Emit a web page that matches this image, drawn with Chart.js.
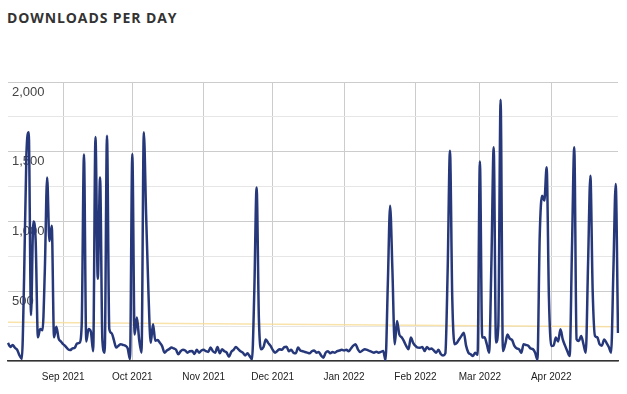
<!DOCTYPE html>
<html>
<head>
<meta charset="utf-8">
<script src="https://cdn.jsdelivr.net/npm/chart.js@4"></script>
<style>
  body { margin: 0; background: #fff; }
  #wrap { position: relative; width: 627px; height: 394px; }
  #title {
    position: absolute; left: 7px; top: 8px;
    font: 700 14px "Open Sans", sans-serif;
    letter-spacing: 0.9px; color: #333;
  }
  #chart { position: absolute; left: 0; top: 0; }
</style>
</head>
<body>
<div id="wrap">
  <div id="title">DOWNLOADS PER DAY</div>
  <canvas id="chart" width="627" height="394"></canvas>
</div>
<script>
  // daily downloads, one array per month (Aug starts on the 8th)
  const aug2021 = [130, 100, 115, 95, 80, 40, 15, 600, 1480, 1640, 330, 1000, 870, 170, 230, 220, 650, 1316, 860, 970, 170, 245, 160, 140];
  const sep2021 = [120, 105, 85, 78, 90, 95, 125, 130, 250, 1480, 140, 230, 210, 70, 1605, 590, 1316, 150, 60, 1615, 230, 200, 150, 96, 110, 120, 115, 110, 90, 14];
  const oct2021 = [1484, 190, 311, 150, 60, 1640, 1050, 500, 130, 263, 145, 150, 130, 105, 60, 75, 85, 96, 90, 80, 48, 70, 80, 75, 60, 70, 72, 50, 80, 60, 75];
  const nov2021 = [80, 70, 65, 96, 70, 60, 100, 55, 84, 70, 60, 30, 65, 80, 100, 85, 70, 60, 40, 55, 35, 12, 500, 1244, 300, 84, 100, 155, 130, 110];
  const dec2021 = [80, 60, 72, 85, 80, 100, 103, 70, 80, 60, 55, 96, 75, 70, 65, 60, 55, 70, 75, 60, 65, 40, 24, 60, 70, 55, 65, 60, 70, 75, 80];
  const jan2022 = [75, 80, 70, 90, 110, 120, 84, 65, 75, 84, 80, 72, 65, 60, 66, 60, 65, 72, 5, 550, 1113, 650, 120, 287, 190, 170, 143, 108, 84, 168, 130];
  const feb2022 = [108, 96, 95, 100, 72, 100, 85, 90, 75, 60, 80, 50, 40, 55, 650, 1508, 450, 120, 130, 156, 180, 203, 110, 60, 48, 36, 60, 45];
  const mar2022 = [1430, 168, 170, 120, 60, 700, 1532, 132, 250, 1873, 72, 120, 190, 160, 150, 108, 90, 85, 60, 120, 115, 110, 90, 85, 60, 10, 900, 1185, 1150, 1388, 450];
  const apr2022 = [108, 110, 168, 140, 227, 155, 110, 70, 36, 800, 1532, 156, 143, 180, 120, 60, 700, 1328, 500, 180, 170, 120, 110, 155, 130, 100, 60, 650, 1268, 200];

  const monthLabels = ["Aug 2021", "Sep 2021", "Oct 2021", "Nov 2021", "Dec 2021", "Jan 2022", "Feb 2022", "Mar 2022", "Apr 2022"];
  const monthValues = [aug2021, sep2021, oct2021, nov2021, dec2021, jan2022, feb2022, mar2022, apr2022];

  // linear trend line, value at first and last day
  const trendEnds = [277, 245];

  const labels = [];
  const downloads = [];
  monthValues.forEach((vals, m) => {
    vals.forEach((v, k) => {
      labels.push(k === 0 && m > 0 ? monthLabels[m] : "");
      downloads.push(v);
    });
  });
  const trend = downloads.map(() => null);
  trend[0] = trendEnds[0];
  trend[trend.length - 1] = trendEnds[1];

  new Chart(document.getElementById("chart"), {
    type: "line",
    data: {
      labels: labels,
      datasets: [
        {
          data: downloads,
          borderColor: "#26387a",
          borderWidth: 2.5,
          pointRadius: 0,
          cubicInterpolationMode: "monotone",
          fill: false,
        },
        {
          data: trend,
          borderColor: "rgba(248, 220, 150, 0.8)",
          borderWidth: 1.5,
          pointRadius: 0,
          spanGaps: true,
          fill: false,
        },
      ],
    },
    options: {
      responsive: false,
      animation: false,
      devicePixelRatio: 1,
      layout: { padding: { left: 0, right: 9, top: 82, bottom: 1 } },
      plugins: { legend: { display: false }, tooltip: { enabled: false } },
      scales: {
        x: {
          offset: false,
          grid: {
            color: "#cccccc",
            lineWidth: 1,
            drawTicks: false,
          },
          border: { display: true, color: "#333333", width: 1.5 },
          ticks: {
            autoSkip: false,
            maxRotation: 0,
            padding: 10,
            color: "#222",
            font: { family: "Liberation Sans, Arial, sans-serif", size: 10 },
            callback: function (value) {
              const l = this.getLabelForValue(value);
              return l === "" ? null : l;
            },
          },
        },
        y: {
          min: 0,
          max: 2000,
          grid: {
            drawTicks: false,
            color: (ctx) => (ctx.tick && ctx.tick.value % 500 === 0 ? "#cccccc" : "#e6e6e6"),
          },
          border: { display: false },
          ticks: {
            stepSize: 250,
            mirror: true,
            padding: 4,
            labelOffset: 10,
            color: "#444",
            font: { family: "Liberation Sans, Arial, sans-serif", size: 13 },
            callback: (v) => (v > 0 && v % 500 === 0 ? v.toLocaleString("en-US") : ""),
          },
        },
      },
    },
  });
</script>
</body>
</html>
